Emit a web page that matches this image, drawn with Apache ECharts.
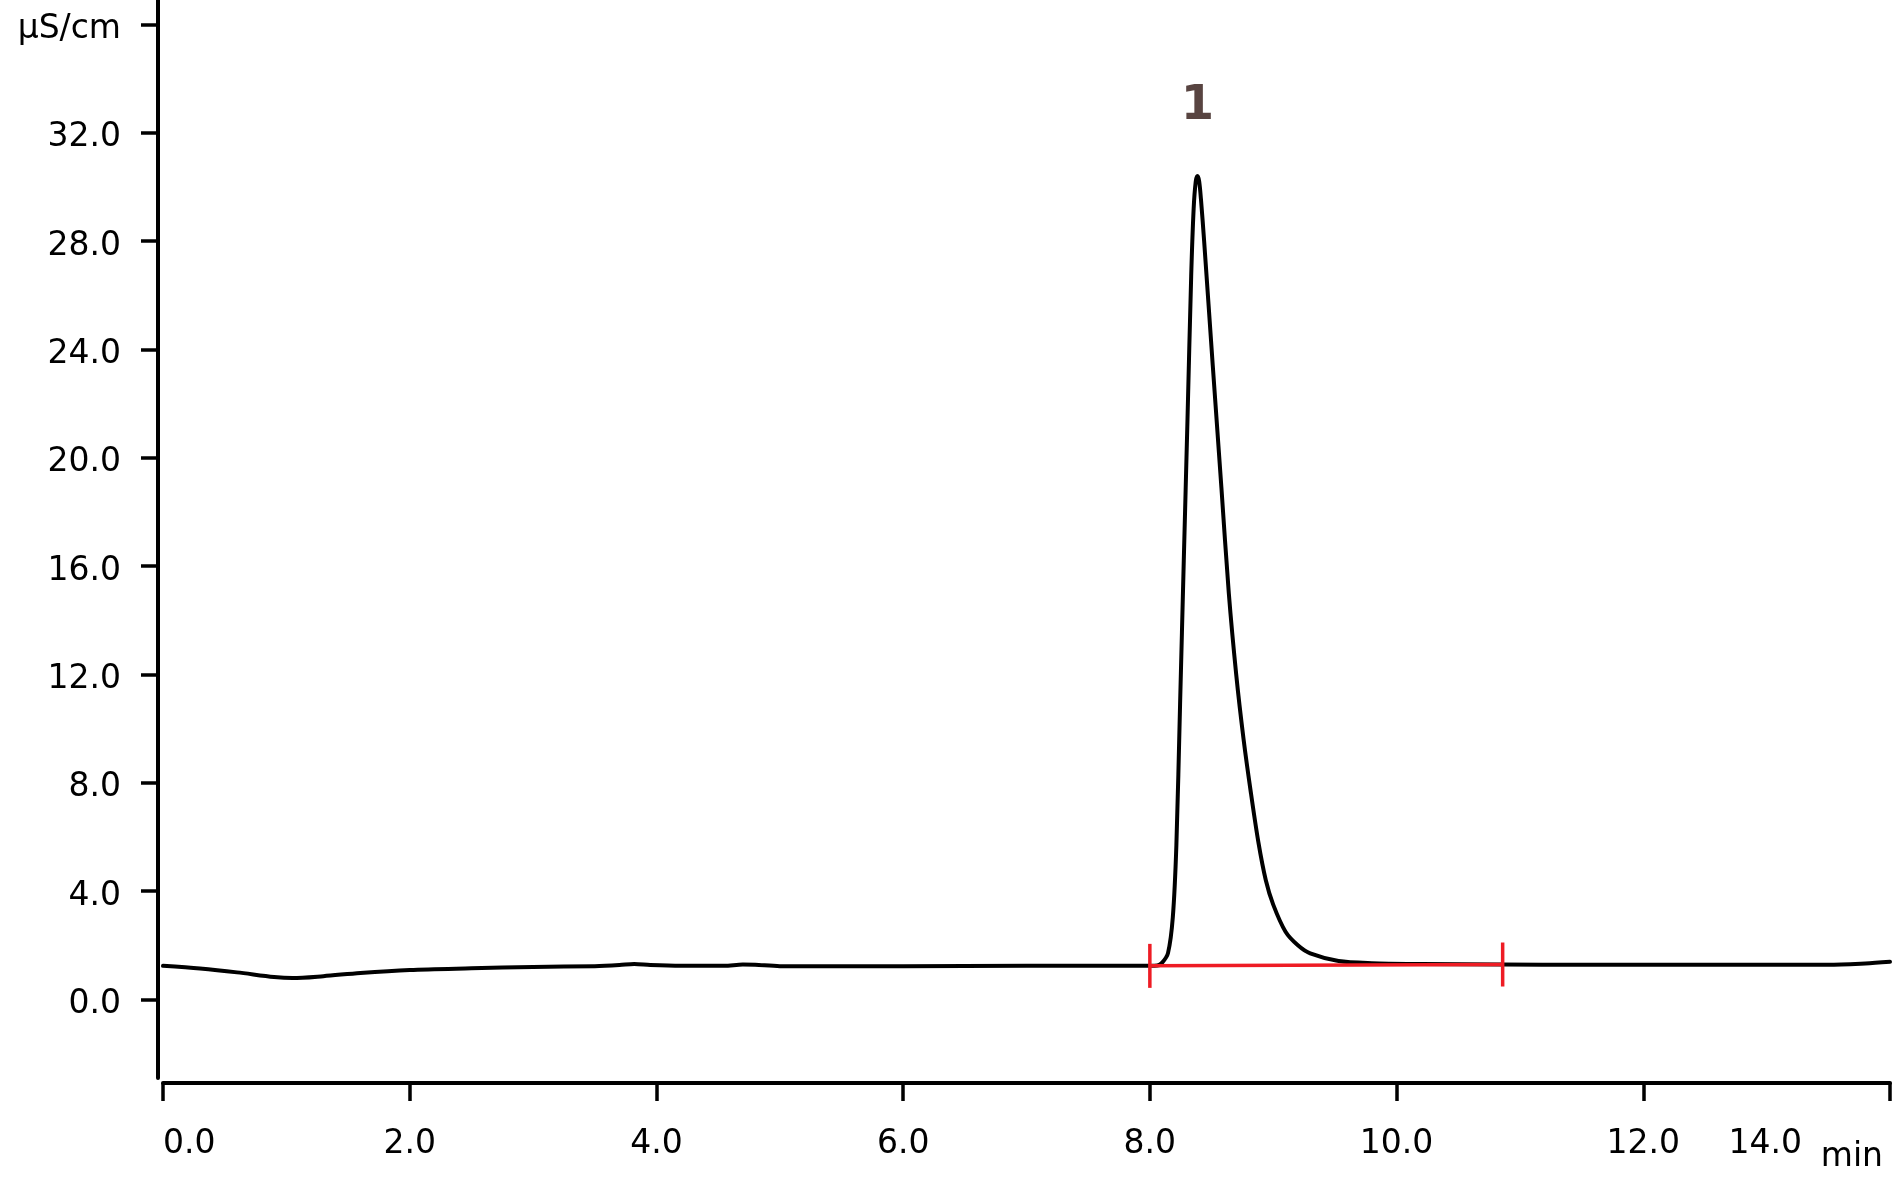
<!DOCTYPE html>
<html>
<head>
<meta charset="utf-8">
<script src="https://cdn.jsdelivr.net/npm/echarts@6/dist/echarts.min.js"></script>
<style>
html,body{margin:0;padding:0;background:#fff;}
#chart{width:1892px;height:1179px;}
</style>
</head>
<body>
<div id="chart"></div>
<script>
// Chromatogram trace: retention time (min) and conductivity (µS/cm)
var times = [0, 0.3, 0.6, 0.9, 1.05, 1.3, 1.6, 2.0, 2.5, 3.0, 3.5, 3.7, 3.82, 3.95, 4.2, 4.55, 4.7, 4.8, 5.0, 6.0, 7.0, 8.0,
  8.06, 8.1, 8.147, 8.186, 8.215, 8.245, 8.275, 8.305, 8.335, 8.355, 8.372, 8.386, 8.4, 8.415, 8.44, 8.51, 8.58, 8.64, 8.70, 8.76, 8.82, 8.88, 8.94,
  9.0, 9.1, 9.2, 9.3, 9.53, 9.8, 10.2, 10.86, 11.5, 12.0, 13.0, 13.5, 13.8, 14.0];
var signal = [1.24, 1.14, 1.0, 0.83, 0.79, 0.86, 0.98, 1.09, 1.15, 1.2, 1.23, 1.27, 1.31, 1.27, 1.24, 1.24, 1.29, 1.28, 1.23, 1.23, 1.24, 1.24,
  1.25, 1.36, 1.71, 3.03, 5.7, 10.9, 16.2, 21.4, 26.7, 29.2, 30.2, 30.4, 30.2, 29.5, 28.0, 23.4, 18.9, 15.0, 12.0, 9.6, 7.6, 5.8, 4.4,
  3.5, 2.5, 2.0, 1.7, 1.42, 1.34, 1.31, 1.29, 1.28, 1.28, 1.28, 1.28, 1.33, 1.39];

// Integration baseline of peak 1
var baseTimes = [8.0, 10.86];
var baseValues = [1.24, 1.29];

// Peak annotation
var peakTimes = [8.386];
var peakHeights = [30.4];
var peakNames = ['1'];

// Axis ticks
var yTicks = [0, 4, 8, 12, 16, 20, 24, 28, 32, 36];
var yUnit = 'µS/cm';
var xUnit = 'min';

var FONT = 'DejaVu Sans';

var traceData = times.map(function (t, i) { return [t, signal[i]]; });
var baseData = baseTimes.map(function (t, i) { return [t, baseValues[i]]; });
var peakData = peakTimes.map(function (t, i) { return [t, peakHeights[i], peakNames[i]]; });

var chart = echarts.init(document.getElementById('chart'), null, {renderer: 'canvas'});
chart.setOption({
  animation: false,
  backgroundColor: '#ffffff',
  grid: {left: 163, right: 2, top: 0, bottom: 101, containLabel: false},
  xAxis: {
    type: 'value', min: 0, max: 14, interval: 2, offset: 5,
    name: xUnit, nameLocation: 'end', nameGap: 0,
    nameTextStyle: {fontFamily: FONT, fontSize: 33, color: '#000', align: 'right', verticalAlign: 'top', padding: [58, 7, 0, 0]},
    axisLine: {show: true, onZero: false, lineStyle: {color: '#000', width: 4}},
    axisTick: {show: true, length: 18, lineStyle: {color: '#000', width: 3.5}},
    splitLine: {show: false},
    axisLabel: {
      show: true, margin: 45, color: '#000', fontFamily: FONT, fontSize: 33,
      showMinLabel: true, showMaxLabel: true, alignMinLabel: 'left', alignMaxLabel: 'right',
      formatter: function (v) { return v === 14 ? '{p|' + v.toFixed(1) + '}' : v.toFixed(1); },
      rich: {p: {fontFamily: FONT, fontSize: 33, color: '#000', padding: [0, 88, 0, 0]}}
    }
  },
  yAxis: {
    type: 'value', min: -2.9, max: 36.9, offset: 5,
    axisLine: {show: true, onZero: false, lineStyle: {color: '#000', width: 4}},
    axisTick: {show: true, length: 17, customValues: yTicks, lineStyle: {color: '#000', width: 3.5}},
    splitLine: {show: false},
    axisLabel: {
      show: true, margin: 37, color: '#000', fontFamily: FONT, fontSize: 33,
      padding: [10, 0, 0, 0],
      customValues: yTicks,
      formatter: function (v) { return v === 36 ? '{u|' + yUnit + '}' : v.toFixed(1); },
      rich: {u: {fontFamily: FONT, fontSize: 33, color: '#000'}}
    }
  },
  series: [
    {
      type: 'line', data: traceData, symbol: 'none', smooth: 0.3,
      lineStyle: {color: '#000', width: 4, join: 'round', cap: 'round'}, z: 2, silent: true
    },
    {
      type: 'line', data: baseData, symbol: 'rect', symbolSize: [3.5, 44], showSymbol: true,
      itemStyle: {color: '#ee1c24'}, lineStyle: {color: '#ee1c24', width: 3.5}, z: 3, silent: true
    },
    {
      type: 'scatter', data: peakData, symbolSize: 1, itemStyle: {color: 'rgba(0,0,0,0)'}, z: 4, silent: true,
      label: {
        show: true, position: 'top', distance: 45,
        formatter: function (p) { return p.data[2]; },
        fontFamily: FONT, fontSize: 48, fontWeight: 'bold', color: '#2e1512'
      }
    }
  ]
});
</script>
</body>
</html>
